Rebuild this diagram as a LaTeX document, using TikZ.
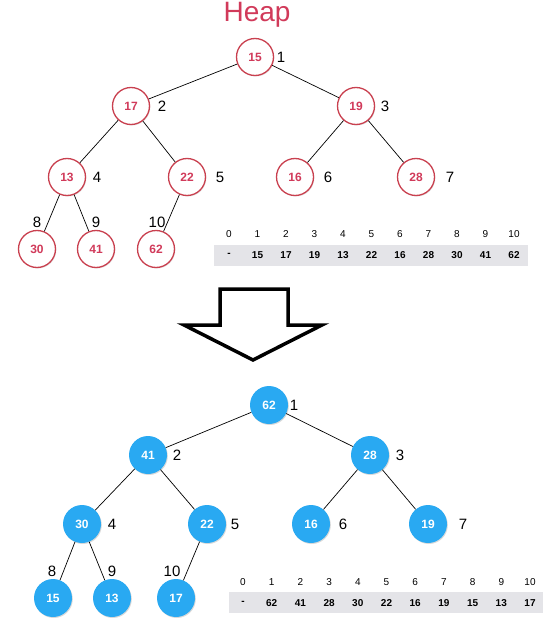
\documentclass[tikz,border=0pt]{standalone}
\usepackage{fontspec}
\setmainfont{Liberation Sans}
\usetikzlibrary{shadows}

\definecolor{heapred}{HTML}{C9404F}
\definecolor{heaptxt}{HTML}{D13A5A}
\definecolor{heapblue}{HTML}{29A9F2}
\definecolor{barbg}{HTML}{E4E4E8}

\begin{document}
\begin{tikzpicture}[x=1pt,y=-1pt,
    rednode/.style={circle, minimum size=37pt, inner sep=0pt, draw=heapred, line width=1.3pt,
        fill=white, text=heaptxt, font=\fontsize{12}{12}\selectfont\bfseries,
        drop shadow={opacity=0.25, shadow xshift=0.8pt, shadow yshift=-1pt}},
    bluenode/.style={circle, minimum size=38pt, inner sep=0pt, fill=heapblue,
        text=white, font=\fontsize{12}{12}\selectfont\bfseries,
        drop shadow={opacity=0.3, shadow xshift=0.8pt, shadow yshift=-1pt}},
    idx/.style={font=\fontsize{15}{15}\selectfont, inner sep=0pt},
    cellnum/.style={font=\fontsize{10}{10}\selectfont, inner sep=0pt},
    cellval/.style={font=\fontsize{10}{10}\selectfont\bfseries, inner sep=0pt},
    edge/.style={line width=0.7pt}]
  \useasboundingbox (0,0) rectangle (554,623);

  % title
  \node[text=heaptxt, font=\fontsize{28}{28}\selectfont, anchor=base, inner sep=0pt]
    (title) at (257,22) {Heap};

  % ---- heap before ----
  \foreach \v/\x/\y/\n in {15/255/57/1, 17/131/106/2, 19/356/106/3, 13/67/177/4, 22/187/177/5,
                           16/295/177/6, 28/416/177/7, 30/37/249/8, 41/96/249/9, 62/156/249/10}
    \node[rednode] (a\n) at (\x,\y) {\v};
  \foreach \p/\c in {1/2,1/3,2/4,2/5,3/6,3/7,4/8,4/9,5/10}
    \draw[edge] (a\p) -- (a\c);
  \foreach \n/\x/\y in {1/281/57, 2/162/106, 3/385/106, 4/97/177, 5/220/177, 6/328/177,
                        7/450/177, 8/37/222, 9/96/222, 10/157/222}
    \node[idx] (ai\n) at (\x,\y) {\n};

  % array before
  \fill[barbg] (214,245) rectangle (528,266);
  \foreach \v [count=\i from 0] in {-,15,17,19,13,22,16,28,30,41,62}{
    \node[cellnum] (an\i) at (229+28.5*\i,234) {\i};
    \node[cellval] (av\i) at (229+28.5*\i,255) {\v};
  }

  % arrow
  \draw[line width=3.5pt, miter limit=10] (220,289) -- (288,289) -- (288,325) -- (322,325)
    -- (253,360) -- (184,325) -- (220,325) -- cycle;

  % ---- heap after ----
  \foreach \v/\x/\y/\n in {62/269/405/1, 41/148/455/2, 28/370/455/3, 30/82/524/4, 22/207/524/5,
                           16/311/524/6, 19/428/524/7, 15/53/598/8, 13/112/598/9, 17/176/598/10}
    \node[bluenode] (b\n) at (\x,\y) {\v};
  \foreach \p/\c in {1/2,1/3,2/4,2/5,3/6,3/7,4/8,4/9,5/10}
    \draw[edge] (b\p) -- (b\c);
  \foreach \n/\x/\y in {1/294/405, 2/177/455, 3/400/455, 4/112/524, 5/235/524, 6/343/524,
                        7/463/524, 8/52/571, 9/112/571, 10/172/571}
    \node[idx] (bi\n) at (\x,\y) {\n};

  % array after
  \fill[barbg] (229,592) rectangle (543,613);
  \foreach \v [count=\i from 0] in {-,62,41,28,30,22,16,19,15,13,17}{
    \node[cellnum] (bn\i) at (243+28.7*\i,582) {\i};
    \node[cellval] (bv\i) at (243+28.7*\i,603) {\v};
  }
\end{tikzpicture}
\end{document}
